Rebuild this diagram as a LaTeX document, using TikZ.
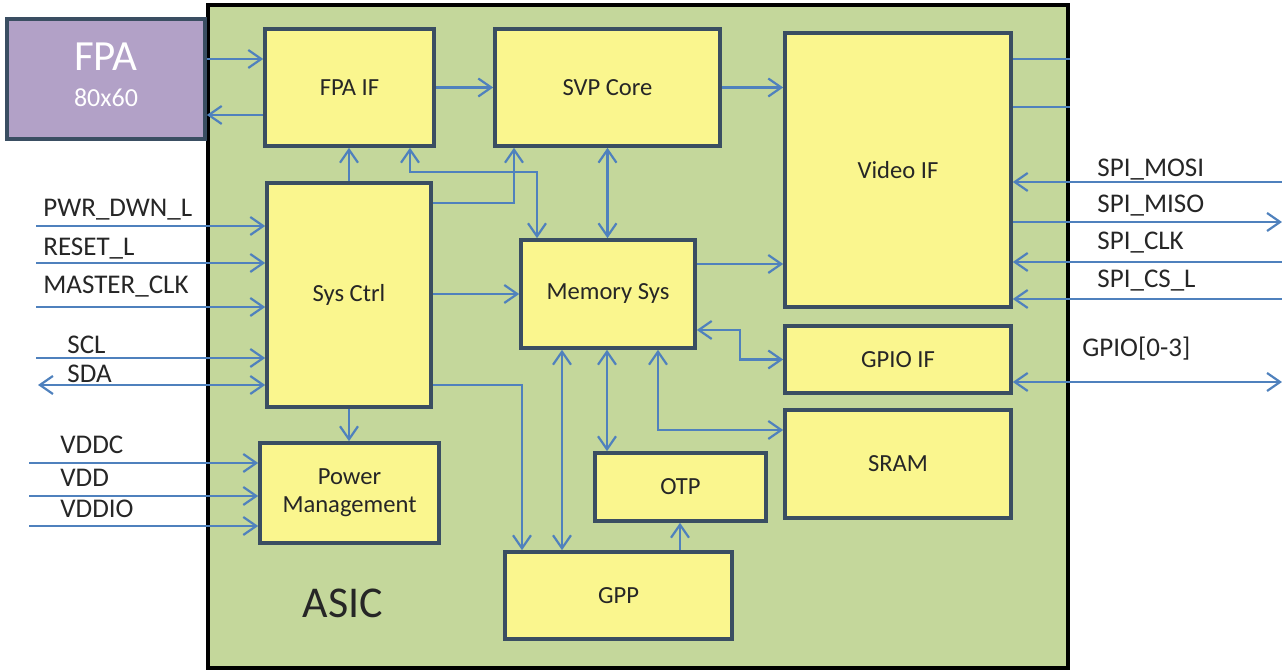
\documentclass[tikz,border=0pt]{standalone}
\usepackage{fontspec}
\setmainfont{Carlito}
\usetikzlibrary{arrows.meta, positioning, calc}

\definecolor{asicgreen}{RGB}{196,215,155}
\definecolor{blkfill}{RGB}{250,246,142}
\definecolor{blkline}{RGB}{58,78,98}
\definecolor{fpafill}{RGB}{178,161,199}
\definecolor{sigblue}{RGB}{79,129,189}

\tikzset{
  blk/.style={draw=blkline, fill=blkfill, line width=1.8pt, text=black!85, font=\fontsize{12.3}{14}\selectfont, align=center, inner sep=0pt},
  sig/.style={draw=sigblue, line width=1.1pt, -{Straight Barb[length=6.5pt,width=9pt]}},
  sigb/.style={sig, {Straight Barb[length=6.5pt,width=9pt]}-{Straight Barb[length=6.5pt,width=9pt]}},
  wire/.style={draw=sigblue, line width=1.1pt},
  pinlbl/.style={anchor=base west, inner sep=0pt, text=black!85, font=\fontsize{13.5}{16}\selectfont},
}

\begin{document}
\begin{tikzpicture}[x=0.5pt, y=-0.5pt]
  \useasboundingbox (0,0) rectangle (1282,672);

  % chip outline
  \node[draw=black, fill=asicgreen, line width=2.2pt, inner sep=0pt, minimum width=430pt, minimum height=331.5pt] (asic) at (638,336.5) {};
  \node[anchor=base, inner sep=0pt, text=black!85, font=\fontsize{22}{24}\selectfont] (asiclbl) at (343,618) {ASIC};

  % sensor
  \node[draw=blkline, fill=fpafill, line width=1.8pt, minimum width=99pt, minimum height=60pt] (fpa) at (106,79) {};
  \node[anchor=base, inner sep=0pt, text=white, font=\fontsize{21.5}{24}\selectfont] (fpaname) at (106,71) {FPA};
  \node[anchor=base, inner sep=0pt, text=white, font=\fontsize{13}{15}\selectfont] (fpasize) at (106,107) {80x60};

  % blocks
  \node[blk, minimum width=84.5pt, minimum height=58.5pt] (fpaif) at (349.5,87.5) {FPA IF};
  \node[blk, minimum width=112.5pt, minimum height=58.5pt] (svp) at (607.5,87.5) {SVP Core};
  \node[blk, minimum width=113pt, minimum height=137pt] (video) at (898,170) {Video IF};
  \node[blk, minimum width=82pt, minimum height=112pt] (sysctrl) at (349,295) {Sys Ctrl};
  \node[blk, minimum width=87pt, minimum height=54pt] (mem) at (608,294) {Memory Sys};
  \node[blk, minimum width=113pt, minimum height=33.5pt] (gpioif) at (898,359.5) {GPIO IF};
  \node[blk, minimum width=113pt, minimum height=54pt] (sram) at (898,464) {SRAM};
  \node[blk, minimum width=89.5pt, minimum height=50pt] (power) at (349.5,493) {Power\\Management};
  \node[blk, minimum width=85.5pt, minimum height=34pt] (otp) at (680.5,487) {OTP};
  \node[blk, minimum width=113.5pt, minimum height=43.5pt] (gpp) at (618.5,595.5) {GPP};

  % internal buses
  \draw[sig] (fpa.east |- 0,59) -- (fpaif.west |- 0,59);
  \draw[sig] (fpaif.west |- 0,115) -- (fpa.east |- 0,115);
  \draw[sig] (fpaif.east) -- (svp.west);
  \draw[sig] (svp.east) -- (video.west |- svp.east);
  \draw[sig] (sysctrl.north) -- (sysctrl.north |- fpaif.south);
  \draw[sigb] (fpaif.south -| 410,0) -- (410,172) -| (mem.north -| 537,0);
  \draw[sig] (sysctrl.east |- 0,203) -| (svp.south -| 514,0);
  \draw[sigb] (svp.south) -- (svp.south |- mem.north);
  \draw[sig] (sysctrl.east |- mem.west) -- (mem.west);
  \draw[sig] (mem.east |- 0,264) -- (video.west |- 0,264);
  \draw[sigb] (mem.east |- 0,330) -| (740,359.5) -- (gpioif.west);
  \draw[sigb] (mem.south -| 658,0) |- (sram.west |- 0,430);
  \draw[sigb] (mem.south -| 607,0) -- (otp.north -| 607,0);
  \draw[sigb] (mem.south -| 562,0) -- (gpp.north -| 562,0);
  \draw[sig] (sysctrl.east |- 0,385) -| (gpp.north -| 522,0);
  \draw[sig] (gpp.north -| 680,0) -- (otp.south -| 680,0);
  \draw[sig] (sysctrl.south) -- (sysctrl.south |- power.north);

  % video out
  \draw[wire] (video.east |- 0,59) -- (asic.east |- 0,59);
  \draw[wire] (video.east |- 0,107) -- (asic.east |- 0,107);

  % left pins
  \foreach \nm/\xl/\yl/\yw/\txt in {pwr/43/217/226/PWR\_DWN\_L, rst/43/256/263/RESET\_L, mclk/43/294/307/MASTER\_CLK, scl/67/354/358/SCL} {
    \coordinate (\nm) at (36,\yw);
    \node[pinlbl] (\nm lbl) at (\xl,\yl) {\txt};
    \draw[sig] (\nm) -- (sysctrl.west |- \nm);
  }
  \coordinate (sda) at (38,385);
  \node[pinlbl] (sdalbl) at (67,383) {SDA};
  \draw[sigb] (sda) -- (sysctrl.west |- sda);

  \foreach \nm/\yl/\yw/\txt in {vddc/454/463/VDDC, vdd/487/496/VDD, vddio/518/526/VDDIO} {
    \coordinate (\nm) at (29,\yw);
    \node[pinlbl] (\nm lbl) at (60,\yl) {\txt};
    \draw[sig] (\nm) -- (power.west |- \nm);
  }

  % right pins
  \foreach \nm/\yl/\yw/\txt in {mosi/177/182/SPI\_MOSI, sclk/250/262/SPI\_CLK, csl/288/299/SPI\_CS\_L} {
    \coordinate (\nm) at (1282,\yw);
    \node[pinlbl] (\nm lbl) at (1097,\yl) {\txt};
    \draw[sig] (\nm) -- (video.east |- \nm);
  }
  \coordinate (miso) at (1282,222);
  \node[pinlbl] (misolbl) at (1097,213) {SPI\_MISO};
  \draw[sig] (video.east |- miso) -- (miso);

  \coordinate (gpio) at (1282,382);
  \node[pinlbl] (gpiolbl) at (1082,357) {GPIO[0-3]};
  \draw[sigb] (gpioif.east |- gpio) -- (gpio);
\end{tikzpicture}
\end{document}
